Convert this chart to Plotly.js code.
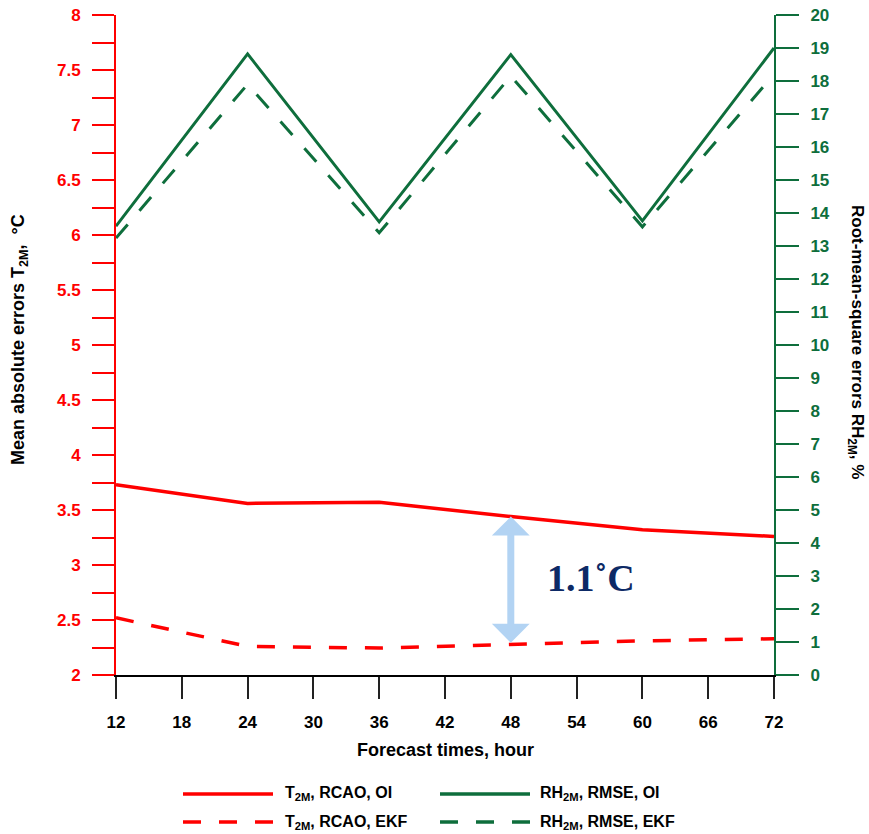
<!DOCTYPE html>
<html>
<head>
<meta charset="utf-8">
<script src="https://cdn.plot.ly/plotly-3.0.1.min.js"></script>
<style>html,body{margin:0;padding:0;background:#fff;}#chart{width:869px;height:834px;}</style>
</head>
<body>
<div id="chart"></div>
<script>
// Data
const forecastHours = [12, 24, 36, 48, 60, 72];
const t2mOI  = [3.73, 3.56, 3.57, 3.44, 3.32, 3.26];
const t2mEKF = [2.52, 2.26, 2.245, 2.28, 2.31, 2.33];
const rhOI   = [13.6, 18.82, 13.73, 18.8, 13.76, 19.0];
const rhEKF  = [13.24, 17.9, 13.4, 18.15, 13.58, 18.2];
const legendLabels = ["T<sub>2M</sub>, RCAO, OI", "RH<sub>2M</sub>, RMSE, OI", "T<sub>2M</sub>, RCAO, EKF", "RH<sub>2M</sub>, RMSE, EKF"];
const diffLabel = "1.1˚C";

const RED = '#ff0000';
const GREEN = '#0e6e3c';
const FONT = 'Liberation Sans, Arial, sans-serif';

const W = 869, H = 834;
const M = {l: 116, r: 95, t: 15, b: 159};
const plotW = W - M.l - M.r, plotH = H - M.t - M.b;
const px = x => (x - M.l) / plotW;
const py = y => (H - M.b - y) / plotH;

const traces = [
  {x: forecastHours, y: t2mOI, yaxis: 'y', mode: 'lines', line: {color: RED, width: 3.5}, showlegend: false, hoverinfo: 'skip'},
  {x: forecastHours, y: t2mEKF, yaxis: 'y', mode: 'lines', line: {color: RED, width: 3.5, dash: '18px,18px'}, showlegend: false, hoverinfo: 'skip'},
  {x: forecastHours, y: rhOI, yaxis: 'y2', mode: 'lines', line: {color: GREEN, width: 3}, showlegend: false, hoverinfo: 'skip'},
  {x: forecastHours, y: rhEKF, yaxis: 'y2', mode: 'lines', line: {color: GREEN, width: 3, dash: '18px,18px'}, showlegend: false, hoverinfo: 'skip'}
];

const legendRows = [794, 822];
const legendCols = [{x0: 183, x1: 273, tx: 283}, {x0: 440, x1: 530, tx: 538}];
const legendStyles = [
  {color: RED, dash: 'solid', width: 3.5},
  {color: GREEN, dash: 'solid', width: 3.5},
  {color: RED, dash: '18px,18px', width: 3.5},
  {color: GREEN, dash: '18px,18px', width: 3.5}
];

const shapes = [];
const annotations = [];
legendLabels.forEach((lab, i) => {
  const r = Math.floor(i / 2), c = i % 2;
  const col = legendCols[c], yy = py(legendRows[r]);
  shapes.push({type: 'line', xref: 'paper', yref: 'paper', x0: px(col.x0), x1: px(col.x1), y0: yy, y1: yy,
    line: {color: legendStyles[i].color, width: legendStyles[i].width, dash: legendStyles[i].dash}});
  annotations.push({xref: 'paper', yref: 'paper', x: px(col.tx), y: yy, xanchor: 'left', yanchor: 'middle',
    text: lab, showarrow: false, font: {family: FONT, size: 16, color: '#000', weight: 'bold'}});
});

// Double-headed arrow between the two T2M series at 48 h
annotations.push({
  x: forecastHours[3], y: t2mOI[3], ax: forecastHours[3], ay: t2mEKF[3],
  xref: 'x', yref: 'y', axref: 'x', ayref: 'y', text: '', showarrow: true,
  arrowside: 'end+start', arrowhead: 1, startarrowhead: 1,
  arrowsize: 0.9, startarrowsize: 0.9, arrowwidth: 7, arrowcolor: '#b2d3f3',
  standoff: 0, startstandoff: 0
});
annotations.push({
  x: 55.3, y: 2.88, xref: 'x', yref: 'y', text: diffLabel, showarrow: false,
  xanchor: 'center', yanchor: 'middle',
  font: {family: 'Liberation Serif, Times New Roman, serif', size: 38, color: '#0d2a66', weight: 'bold'}
});

// Axis titles
annotations.push({
  xref: 'paper', yref: 'paper', x: px(19), y: py(340), textangle: -90, showarrow: false,
  xanchor: 'center', yanchor: 'middle',
  text: 'Mean absolute errors T<sub>2M</sub>,  °C',
  font: {family: FONT, size: 18, color: '#000', weight: 'bold'}
});
annotations.push({
  xref: 'paper', yref: 'paper', x: px(856), y: py(342), textangle: 90, showarrow: false,
  xanchor: 'center', yanchor: 'middle',
  text: 'Root-mean-square errors RH<sub>2M</sub>, %',
  font: {family: FONT, size: 17, color: '#000', weight: 'bold'}
});
annotations.push({
  xref: 'paper', yref: 'paper', x: px(445), y: py(750), showarrow: false,
  xanchor: 'center', yanchor: 'middle',
  text: 'Forecast times, hour',
  font: {family: FONT, size: 18, color: '#000', weight: 'bold'}
});

const layout = {
  width: W, height: H,
  margin: M,
  paper_bgcolor: '#fff', plot_bgcolor: '#fff',
  showlegend: false,
  xaxis: {
    range: [12, 72], tick0: 12, dtick: 6, showgrid: false, zeroline: false,
    showline: true, linecolor: '#000', linewidth: 2,
    ticks: 'outside', ticklen: 22, tickwidth: 2, tickcolor: '#222',
    ticklabelstandoff: 9,
    tickfont: {family: FONT, size: 17, color: '#000', weight: 'bold'}
  },
  yaxis: {
    range: [2, 8], dtick: 0.5, showgrid: false, zeroline: false,
    showline: true, linecolor: RED, linewidth: 2,
    ticks: 'outside', ticklen: 22, tickwidth: 2, tickcolor: RED,
    ticklabelstandoff: 8,
    minor: {dtick: 0.25, ticks: 'outside', ticklen: 22, tickwidth: 2, tickcolor: RED, showgrid: false},
    tickfont: {family: FONT, size: 17, color: RED, weight: 'bold'}
  },
  yaxis2: {
    range: [0, 20], dtick: 1, overlaying: 'y', side: 'right', anchor: 'x',
    showgrid: false, zeroline: false,
    showline: true, linecolor: GREEN, linewidth: 2,
    ticks: 'outside', ticklen: 23, tickwidth: 2, tickcolor: GREEN,
    ticklabelstandoff: 8,
    tickfont: {family: FONT, size: 17, color: GREEN, weight: 'bold'}
  },
  shapes: shapes,
  annotations: annotations
};

Plotly.newPlot('chart', traces, layout, {staticPlot: true, displayModeBar: false});
</script>
</body>
</html>
